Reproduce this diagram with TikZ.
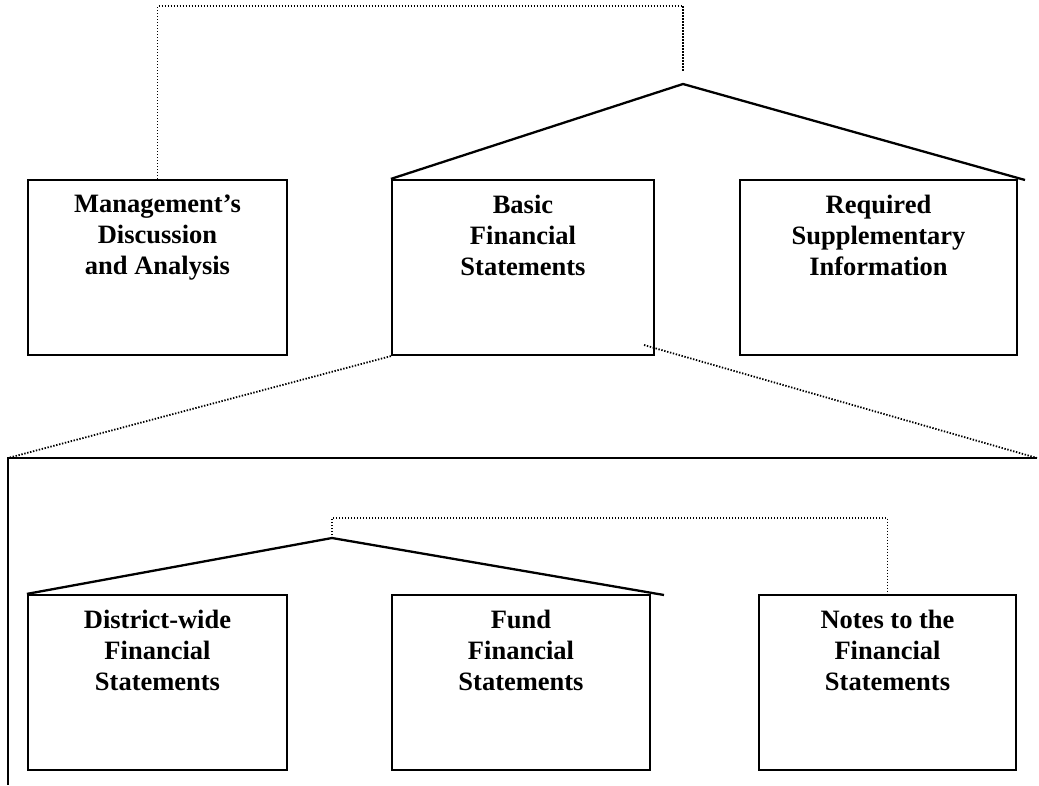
\documentclass[tikz,border=0pt]{standalone}
\usepackage{fontspec}
\setmainfont{Liberation Serif}
\usetikzlibrary{positioning}

\begin{document}
\begin{tikzpicture}[
  x=1pt, y=-1pt,
  panel/.style={draw, line width=2.2pt, inner sep=0pt, minimum height=175pt},
  caption/.style={font=\fontsize{26.5}{31}\selectfont\bfseries, align=center, inner sep=0pt},
  roof/.style={line width=2.3pt, line join=miter},
  link/.style={line width=1.8pt, dash pattern=on 1.4pt off 1.6pt},
  frame/.style={line width=2.2pt},
  node distance=16pt
]
  \useasboundingbox (0,0) rectangle (1039,785);

  % Upper level
  \node[panel, minimum width=259pt] (mda) at (157.5,267.5) {};
  \node[panel, minimum width=262pt] (bfs) at (523,267.5) {};
  \node[panel, minimum width=277pt] (rsi) at (878.5,267.5) {};
  \node[caption, below=of mda.north] (mdatext) {Management's\\Discussion\\and Analysis};
  \node[caption, below=of bfs.north] (bfstext) {Basic\\Financial\\Statements};
  \node[caption, below=of rsi.north] (rsitext) {Required\\Supplementary\\Information};

  % Lower level
  \node[panel, minimum width=259pt] (dfs) at (157.5,682.5) {};
  \node[panel, minimum width=258pt] (ffs) at (521,682.5) {};
  \node[panel, minimum width=257pt] (nfs) at (887.5,682.5) {};
  \node[caption, below=of dfs.north] (dfstext) {District-wide\\Financial\\Statements};
  \node[caption, below=of ffs.north] (ffstext) {Fund\\Financial\\Statements};
  \node[caption, below=of nfs.north] (nfstext) {Notes to the\\Financial\\Statements};

  % Roof points
  \coordinate (apexA) at (683,84);
  \coordinate (tickA) at (683,72);
  \coordinate (eaveA) at (1025,180);
  \coordinate (apexB) at (332,538);
  \coordinate (tickB) at (332,535);
  \coordinate (eaveB) at (664,595);

  % Zoom frame
  \coordinate (zoomR) at (644,345);
  \coordinate (frameNW) at (8,458);
  \coordinate (frameNE) at (1037,458);
  \coordinate (frameSW) at (8,785);

  % Solid roofs
  \draw[roof] (bfs.north west) -- (apexA) -- (eaveA);
  \draw[roof] (dfs.north west) -- (apexB) -- (eaveB);

  % Dotted links
  \draw[link] (mda.north) -- ++(0,-173) -| (tickA);
  \draw[link] (tickB) -- ++(0,-17) -| (nfs.north);
  \draw[link] (bfs.south west) -- (frameNW);
  \draw[link] (zoomR) -- (frameNE);

  % Frame
  \draw[frame] (frameNE) -- (frameNW) -- (frameSW);
\end{tikzpicture}
\end{document}
